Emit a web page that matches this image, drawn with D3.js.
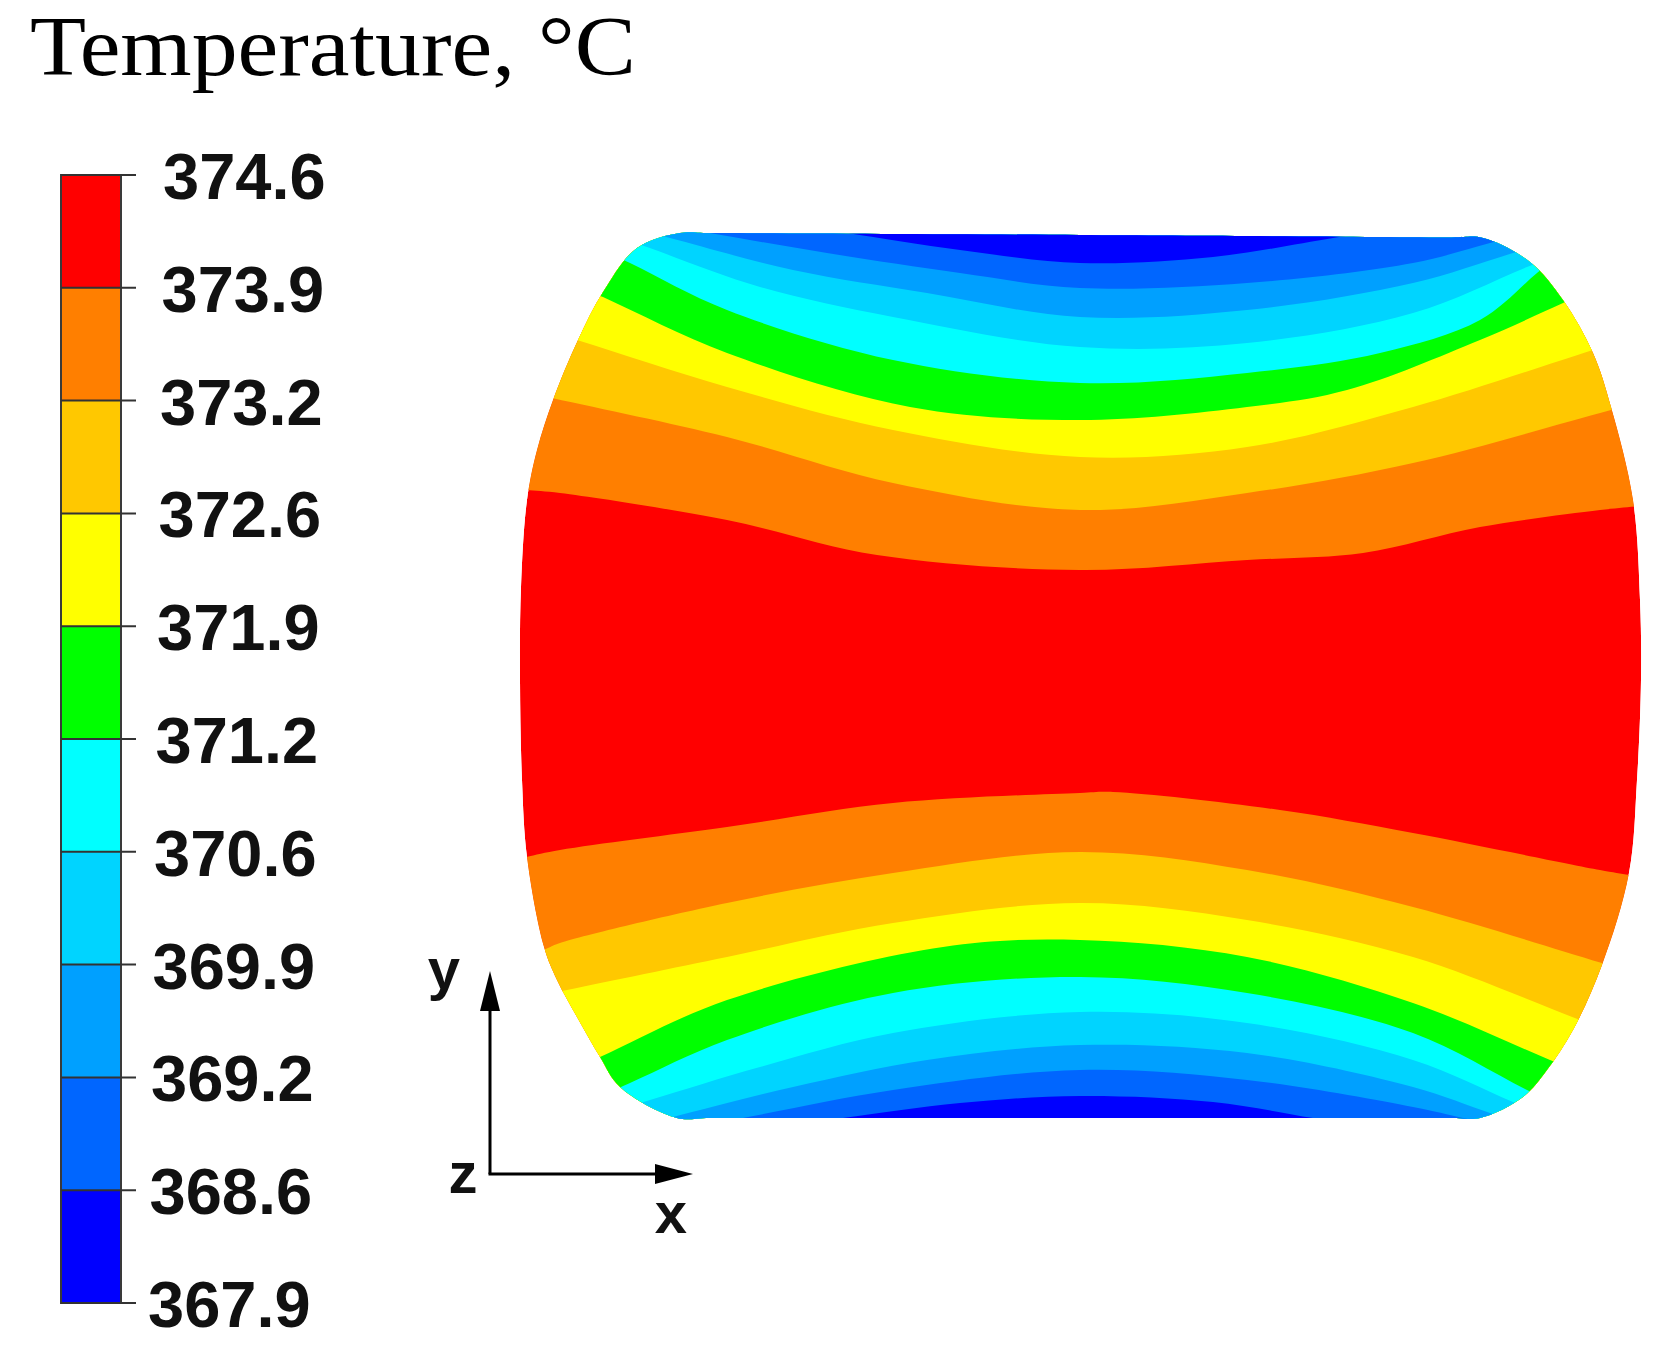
<!DOCTYPE html>
<html>
<head>
<meta charset="utf-8">
<script src="https://cdn.jsdelivr.net/npm/d3@7"></script>
<style>
  body { margin: 0; background: #fff; }
  svg { display: block; }
</style>
</head>
<body>
<div id="chart"></div>
<script>
// Legend levels (top to bottom) and band colours
var levelLabels = ["374.6","373.9","373.2","372.6","371.9","371.2","370.6","369.9","369.2","368.6","367.9"];
var bandColors  = ["#ff0000","#ff7f00","#ffc800","#ffff00","#00ff00","#00ffff","#00d4ff","#00a0ff","#0066ff","#0000ff"];

// Specimen outline (x, y in specimen units, centre = 0,0)
var outline = [
  [-40,44.2],[-37,44.2],[0,44.0],[37,43.75],[40.3,43.7],[45.0,41.3],[48.3,37.5],[51.3,32.2],[53.1,26.8],
  [55.3,17.5],[56.0,7.5],[56.1,-0.5],[55.7,-10.5],[54.9,-19.8],[52.2,-29.0],[49.3,-35.5],[46.7,-39.5],
  [44.3,-42.2],[40.0,-44.3],[37,-44.3],[0,-44.3],[-37,-44.3],[-40.3,-44.3],[-46.0,-41.2],[-48.0,-38.2],
  [-50.3,-34.2],[-52.3,-30.5],[-53.6,-27.2],[-55.3,-18.2],[-55.8,-10.5],[-56.0,-0.5],[-55.9,8.8],
  [-55.3,17.5],[-54.3,22.5],[-52.7,27.5],[-50.2,33.5],[-47.7,38.3],[-44.3,42.7]
];

// Iso-lines in the upper half: 373.9, 373.2, ... 368.6
var upperIso = [
  [[-55.4,18.5],[-52,18.2],[-35.3,15.5],[-20.3,12],[0,10.5],[16.7,11.5],[28.3,12.2],[40,14.8],[52,16.5],[56,16.9]],
  [[-52.8,27.7],[-35.3,23.8],[-18.7,19.2],[0,16.5],[16.7,18.2],[33.3,21.2],[53.1,26.5]],
  [[-50.3,33.5],[-35.3,28.8],[-18.7,24.5],[0,21.8],[16.7,22.8],[33.3,26.8],[51.3,32.5]],
  [[-47.7,37.8],[-35.3,32.2],[-17,26.8],[0,25.5],[16.7,26.8],[26.7,28.5],[40,33.5],[48.3,37.2]],
  [[-45,41.2],[-35.3,36.5],[-18.7,31.5],[0,29.2],[16.7,30.2],[30,32.2],[40,35.5],[45.7,40.2]],
  [[-43.3,42.8],[-32,38.8],[-18.7,35.8],[0,32.8],[16.7,33.2],[33.3,36.2],[44.7,40.8]],
  [[-41,43.7],[-28.7,40.5],[-15.3,38.2],[0,35.8],[16.7,36.5],[33.3,39.2],[43.3,42.2]],
  [[-37,44.2],[-25.3,42.2],[-12,40.2],[0,38.7],[16.7,39.2],[33.3,41.2],[41,43.2]],
  [[-23.3,44.2],[-12,42.5],[0,41.2],[13.3,41.8],[25.3,43.7]]
];

// Iso-lines in the lower half: 373.9, 373.2, ... 368.6
var lowerIso = [
  [[-55.4,-18.2],[-52,-17.5],[-35.3,-15.2],[-18.7,-12.8],[0,-11.8],[3.3,-11.7],[20,-13.5],[33.3,-15.8],[52,-19.5],[54.9,-20]],
  [[-53.2,-27.3],[-52,-26.8],[-35.3,-22.8],[-18.7,-19.8],[0,-17.7],[16.7,-19.5],[33.3,-23.2],[52.2,-28.8]],
  [[-51.3,-31.5],[-35.3,-28.2],[-18.7,-24.8],[0,-22.8],[16.7,-24.5],[33.3,-28.2],[50,-34.5]],
  [[-48,-38.2],[-35.3,-32.5],[-13.7,-27.2],[0,-26.5],[16.7,-28.2],[33.3,-32.8],[47,-38.5]],
  [[-45,-40.8],[-35.3,-36.5],[-18.7,-31.8],[0,-30.2],[16.7,-31.8],[33.3,-35.8],[44.7,-41.5]],
  [[-43,-42.5],[-32,-39.2],[-18.7,-35.8],[0,-33.7],[16.7,-34.8],[33.3,-38.5],[43.3,-42.7]],
  [[-40.7,-44.2],[-28.7,-41.2],[-15.3,-38.5],[0,-37],[16.7,-37.8],[33.3,-41.2],[41,-43.8]],
  [[-33.7,-44.3],[-18.7,-41.5],[0,-39.5],[16.7,-40.5],[33.3,-43.2],[38.3,-44.3]],
  [[-23.7,-44.3],[-12,-42.8],[0,-42.1],[13.3,-42.7],[23.3,-44.3]]
];

// axis triad (specimen units)
var triadOrigin = [-59, -49.9];
var triadLen = 20.3;

var W = 1661, H = 1367;
var svg = d3.select("#chart").append("svg")
    .attr("width", W)
    .attr("height", H);
svg.append("rect").attr("width", W).attr("height", H).attr("fill", "#fff");

// Title
svg.append("text")
    .attr("x", 30)
    .attr("y", 75)
    .attr("textLength", 606)
    .attr("lengthAdjust", "spacingAndGlyphs")
    .style("font-family", "'Liberation Serif', 'Times New Roman', serif")
    .style("font-size", "85px")
    .attr("fill", "#000")
    .text("Temperature, °C");

// Colour bar
var barX = 61, barW = 60;
var barY = d3.scalePoint().domain(levelLabels).range([175, 1303]);
var bar = svg.append("g").attr("class", "colorbar");
bar.selectAll(".band")
  .data(bandColors)
  .enter().append("rect")
    .attr("class", "band")
    .attr("x", barX)
    .attr("y", function(d,i){ return barY(levelLabels[i]); })
    .attr("width", barW)
    .attr("height", function(d,i){ return barY(levelLabels[i+1]) - barY(levelLabels[i]); })
    .attr("fill", function(d){ return d; });
bar.append("rect")
    .attr("x", barX).attr("y", barY(levelLabels[0]))
    .attr("width", barW)
    .attr("height", barY(levelLabels[10]) - barY(levelLabels[0]))
    .attr("fill", "none")
    .attr("stroke", "#3a3a3a")
    .attr("stroke-width", 2);
bar.selectAll(".tick")
  .data(levelLabels)
  .enter().append("line")
    .attr("class", "tick")
    .attr("x1", barX).attr("x2", barX + barW + 15)
    .attr("y1", function(d){ return barY(d); })
    .attr("y2", function(d){ return barY(d); })
    .attr("stroke", "#333")
    .attr("stroke-width", 2);
bar.selectAll(".lab")
  .data(levelLabels)
  .enter().append("text")
    .attr("class", "lab")
    .attr("x", function(d,i){ return 163 - 1.5*i; })
    .attr("y", function(d){ return barY(d) + 24; })
    .style("font-family", "'Liberation Sans', Arial, sans-serif")
    .style("font-weight", "bold")
    .style("font-size", "65px")
    .attr("fill", "#111")
    .text(function(d){ return d; });

// Contour field
var xS = d3.scaleLinear().domain([-56, 56]).range([520, 1640]);
var yS = d3.scaleLinear().domain([44.3, -44.3]).range([232, 1118]);
var outlineGen = d3.line()
    .x(function(d){ return xS(d[0]); })
    .y(function(d){ return yS(d[1]); })
    .curve(d3.curveCatmullRomClosed.alpha(0.5));
var isoGen = d3.line()
    .x(function(d){ return xS(d[0]); })
    .y(function(d){ return yS(d[1]); })
    .curve(d3.curveCatmullRom.alpha(0.5));

svg.append("clipPath").attr("id", "specClip")
  .append("path")
    .attr("d", outlineGen(outline));

var field = svg.append("g").attr("clip-path", "url(#specClip)");
field.append("path")
    .attr("d", outlineGen(outline))
    .attr("fill", bandColors[0]);

// extend an iso-line a little past the outline along its end directions, then close it
function regionPath(pts, capY) {
  var n = pts.length;
  var a = pts[0], a1 = pts[1], b = pts[n - 1], b1 = pts[n - 2];
  var ea = [a[0] + (a[0] - a1[0]) * 0.6, a[1] + (a[1] - a1[1]) * 0.6];
  var eb = [b[0] + (b[0] - b1[0]) * 0.6, b[1] + (b[1] - b1[1]) * 0.6];
  var ring = [ea].concat(pts, [eb]);
  var d = isoGen(ring);
  var xr = Math.max(eb[0], b[0]) + 4, xl = Math.min(ea[0], a[0]) - 4;
  return d + "L" + xS(xr) + "," + yS(eb[1]) + "L" + xS(xr) + "," + yS(capY) +
         "L" + xS(xl) + "," + yS(capY) + "L" + xS(xl) + "," + yS(ea[1]) + "Z";
}

field.selectAll(".upper")
  .data(upperIso)
  .enter().append("path")
    .attr("class", "upper")
    .attr("d", function(d){ return regionPath(d, 60); })
    .attr("fill", function(d,i){ return bandColors[i+1]; });
field.selectAll(".lower")
  .data(lowerIso)
  .enter().append("path")
    .attr("class", "lower")
    .attr("d", function(d){ return regionPath(d, -60); })
    .attr("fill", function(d,i){ return bandColors[i+1]; });

// Axis triad
var ox = xS(triadOrigin[0]), oy = yS(triadOrigin[1]);
var tipY = yS(triadOrigin[1] + triadLen), tipX = xS(triadOrigin[0] + triadLen);
var triad = svg.append("g");
triad.append("line")
    .attr("x1", ox).attr("y1", oy).attr("x2", ox).attr("y2", tipY + 30)
    .attr("stroke", "#000").attr("stroke-width", 3);
triad.append("line")
    .attr("x1", ox - 1.5).attr("y1", oy).attr("x2", tipX - 30).attr("y2", oy)
    .attr("stroke", "#000").attr("stroke-width", 3);
triad.append("path")
    .attr("d", "M" + ox + "," + tipY + " L" + (ox - 10) + "," + (tipY + 40) + " L" + (ox + 10) + "," + (tipY + 40) + "Z")
    .attr("fill", "#000");
triad.append("path")
    .attr("d", "M" + tipX + "," + oy + " L" + (tipX - 38) + "," + (oy - 10) + " L" + (tipX - 38) + "," + (oy + 10) + "Z")
    .attr("fill", "#000");
var triadFont = function(sel){
  sel.style("font-family", "'Liberation Sans', Arial, sans-serif")
     .style("font-weight", "bold")
     .style("font-size", "58px")
     .attr("text-anchor", "middle")
     .attr("fill", "#111");
};
triad.append("text").attr("x", ox - 46).attr("y", tipY + 18).call(triadFont).text("y");
triad.append("text").attr("x", ox - 27).attr("y", oy + 19).call(triadFont).text("z");
triad.append("text").attr("x", tipX - 22).attr("y", oy + 59).call(triadFont).text("x");
</script>
</body>
</html>
